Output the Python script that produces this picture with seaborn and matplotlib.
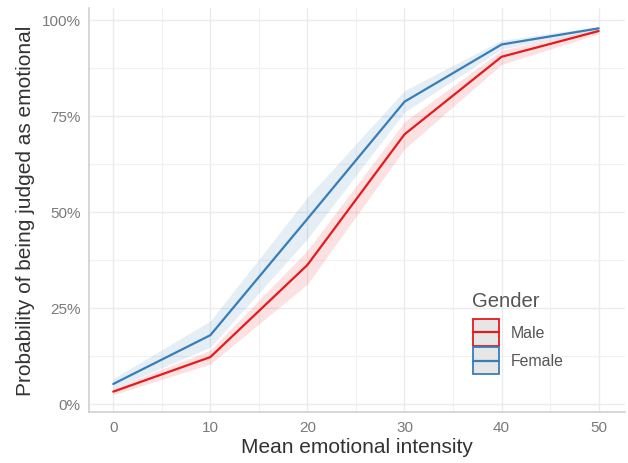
import numpy as np
import pandas as pd
import matplotlib
matplotlib.use("Agg")
import matplotlib.pyplot as plt
import seaborn as sns
from matplotlib.patches import Rectangle
from matplotlib.lines import Line2D
from matplotlib.legend_handler import HandlerBase
from matplotlib.ticker import PercentFormatter, MultipleLocator

# ---- data ----
intensity = [0, 10, 20, 30, 40, 50]
male_mean = [0.032, 0.122, 0.362, 0.702, 0.904, 0.971]
male_lo = [0.024, 0.104, 0.312, 0.664, 0.884, 0.964]
male_hi = [0.041, 0.140, 0.400, 0.735, 0.921, 0.977]
female_mean = [0.052, 0.179, 0.482, 0.787, 0.936, 0.978]
female_lo = [0.040, 0.148, 0.430, 0.760, 0.924, 0.973]
female_hi = [0.066, 0.216, 0.538, 0.816, 0.947, 0.983]
genders = ["Male", "Female"]
y_ticks = [0, 0.25, 0.5, 0.75, 1.0]
x_ticks = [0, 10, 20, 30, 40, 50]

colors = {"Male": "#E41A1C", "Female": "#377EB8"}

df = pd.DataFrame({
    "intensity": intensity * 2,
    "prob": male_mean + female_mean,
    "lo": male_lo + female_lo,
    "hi": male_hi + female_hi,
    "Gender": ["Male"] * len(intensity) + ["Female"] * len(intensity),
})

sns.set_theme(style="white")
plt.rcParams["font.family"] = ["Liberation Sans", "DejaVu Sans"]

fig = plt.figure(figsize=(6.28, 4.64), dpi=100)
ax = fig.add_axes([0.1417, 0.1099, 0.8533, 0.8707])

for g in genders:
    sub = df[df["Gender"] == g]
    ax.fill_between(sub["intensity"], sub["lo"], sub["hi"],
                    color=colors[g], alpha=0.13, linewidth=0, zorder=2)

sns.lineplot(data=df, x="intensity", y="prob", hue="Gender",
             hue_order=genders, palette=colors, linewidth=1.6,
             legend=False, ax=ax, zorder=3, errorbar=None)

ax.set_xlim(-2.5, 52.7)
ax.set_ylim(-0.021, 1.031)
ax.set_xticks(x_ticks)
ax.set_yticks(y_ticks)
ax.xaxis.set_minor_locator(MultipleLocator(5))
ax.yaxis.set_minor_locator(MultipleLocator(0.125))
ax.yaxis.set_major_formatter(PercentFormatter(1.0, decimals=0))
ax.grid(which="major", color="#ebebeb", linewidth=1.0, zorder=0)
ax.grid(which="minor", color="#f1f1f1", linewidth=0.8, zorder=0)
ax.set_axisbelow(True)
for s in ["top", "right"]:
    ax.spines[s].set_visible(False)
for s in ["left", "bottom"]:
    ax.spines[s].set_visible(True)
    ax.spines[s].set_color("#cfcfcf")
    ax.spines[s].set_linewidth(1.2)
ax.tick_params(axis="both", which="both", length=0, labelsize=11,
               labelcolor="#7a7a7a", pad=6)

ax.set_xlabel("Mean emotional intensity", fontsize=15, color="#333333", labelpad=2)
ax.set_ylabel("Probability of being judged as emotional", fontsize=15,
              color="#333333", labelpad=5)


class BoxLineHandler(HandlerBase):
    def create_artists(self, legend, orig_handle, xdescent, ydescent,
                       width, height, fontsize, trans):
        c = orig_handle.get_color()
        x0, y0 = -xdescent, -ydescent
        rect = Rectangle((x0 + 0.6, y0 + 0.6), width - 1.2, height - 1.2,
                         facecolor="#e6e6e6", edgecolor=c, linewidth=1.3,
                         transform=trans)
        ym = y0 + height / 2
        line = Line2D([x0 + 0.6, x0 + width - 0.6], [ym, ym], color=c,
                      linewidth=1.6, transform=trans)
        return [rect, line]


handles = [Line2D([0], [0], color=colors[g]) for g in genders]
leg = ax.legend(handles, genders, title="Gender",
                handler_map={Line2D: BoxLineHandler()},
                loc="upper left", bbox_to_anchor=(0.703, 0.315),
                frameon=False, fontsize=11.4, title_fontsize=14.6,
                handlelength=1.77, handleheight=2.35, labelspacing=0.0,
                handletextpad=0.7, alignment="left", borderaxespad=0)
leg._legend_box.sep = 6
leg.get_title().set_color("#555555")
for t in leg.get_texts():
    t.set_color("#555555")

fig.savefig("out.png", dpi=100, facecolor="white")
